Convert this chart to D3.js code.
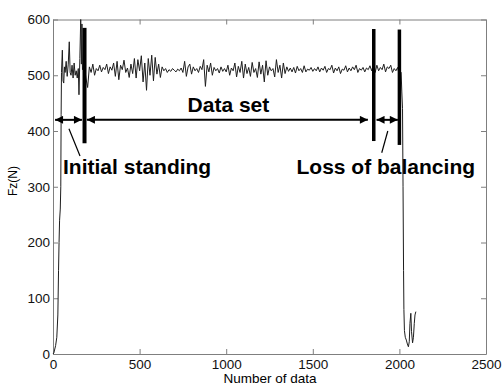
<!DOCTYPE html>
<html>
<head>
<meta charset="utf-8">
<script src="https://cdn.jsdelivr.net/npm/d3@7"></script>
<style>
    html, body { margin: 0; padding: 0; background: #fff; }
    svg { display: block; font-family: "Liberation Sans", Arial, sans-serif; }
</style>
</head>
<body>
<svg id="chart" width="502" height="385"></svg>
<script>
/* ========================= DATA ======================== */
/* ======================================================= */

// rise of the force while the subject steps on
const risePoints = [
    [0, 0], [5, 2], [15, 15], [22, 30], [28, 70], [32, 150], [35, 200], [38, 240],
    [42, 260], [45, 300], [47, 430], [49, 505], [54, 545], [58, 490], [62, 486],
    [66, 515], [70, 505], [76, 525], [82, 498], [88, 520], [94, 560], [99, 505],
    [104, 500], [110, 518], [116, 495], [122, 522], [128, 500], [134, 508],
    [140, 495], [146, 512], [150, 465], [155, 530], [160, 600], [164, 520],
    [167, 592]
];

// standing phase, one value every plateauStep samples from plateauStart
const plateauStart = 170;
const plateauStep = 10;
const plateauValues = [
    510, 520, 495, 478, 515, 505, 520, 500, 512, 508,
    518, 506, 514, 510, 520, 503, 515, 509, 522, 498,
    525, 492, 518, 510, 527, 505, 513, 496, 520, 503,
    530, 495, 528, 508, 535, 488, 522, 473, 530, 500,
    536, 490, 532, 502, 520, 496, 515, 508, 512, 505,
    510, 507, 512, 509, 506, 511, 508, 513, 505, 525,
    498, 515, 520, 502, 515, 508, 512, 505, 516, 510,
    528, 480, 518, 506, 522, 500, 514, 508, 512, 504,
    515, 507, 512, 506, 518, 500, 513, 508, 522, 497,
    516, 505, 525, 495, 520, 503, 514, 498, 523, 505,
    512, 496, 524, 502, 518, 488, 526, 500, 515, 508,
    512, 497, 528, 505, 518, 495, 522, 503, 515, 507,
    513, 506, 514, 504, 516, 508, 512, 505, 517, 506,
    511, 509, 514, 507, 512, 508, 515, 506, 513, 509,
    516, 505, 512, 510, 518, 504, 513, 508, 515, 503,
    511, 509, 517, 506, 513, 508, 515, 510, 518, 505,
    512, 509, 514, 506, 513, 510, 517, 508, 520, 505,
    518, 508, 514, 510, 520, 506, 515, 512, 518, 505,
    512, 508, 514, 500, 505
];

// fall after the loss of balance
const dropPoints = [
    [2014, 470], [2018, 440], [2021, 300], [2024, 150], [2026, 80], [2029, 42],
    [2034, 30], [2040, 25], [2046, 18], [2052, 13], [2057, 22], [2061, 55],
    [2066, 73], [2070, 40], [2076, 20], [2081, 30], [2086, 55], [2090, 70],
    [2095, 76]
];

const xTicks = [0, 500, 1000, 1500, 2000, 2500];
const yTicks = [0, 100, 200, 300, 400, 500, 600];

// phase borders: sample index, lower and upper end in N
const borderX = [182, 1852, 2000];
const borderLow = [378, 382, 375];
const borderHigh = [585, 583, 582];

// double arrows at Fz = 420 N
const arrowLevel = 420;
const arrowFrom = [12, 196, 1868];
const arrowTo = [167, 1818, 1991];

const labelTexts = ["Initial standing", "Data set", "Loss of balancing"];
const labelX = [58, 777, 1406];
const labelY = [323, 434, 323];

// short pointer lines from labels to arrows
const pointerLines = [
    [[92, 404], [156, 355]],
    [[1933, 400], [1898, 361]]
];

/* ======================================================= */
/* ======================= END DATA ====================== */


/* ======================== SETUP ======================== */
/* ======================================================= */

const svg = d3.select("#chart");
const plot = { left: 53, right: 486, top: 19.5, bottom: 354 };

const xScale = d3.scaleLinear()
                 .domain([0, 2500])
                 .range([plot.left, plot.right]);
const yScale = d3.scaleLinear()
                 .domain([0, 600])
                 .range([plot.bottom, plot.top]);

const series = risePoints
    .concat(plateauValues.map((v, i) => [plateauStart + i * plateauStep, v]))
    .concat(dropPoints);

svg.append("defs").append("marker")
   .attr("id", "head")
   .attr("viewBox", "0 0 10 10")
   .attr("refX", 10)
   .attr("refY", 5)
   .attr("markerUnits", "userSpaceOnUse")
   .attr("markerWidth", 9)
   .attr("markerHeight", 8)
   .attr("orient", "auto-start-reverse")
   .append("path")
   .attr("d", "M0,0 L10,5 L0,10 z")
   .attr("fill", "#000");

/* ======================================================= */
/* ======================== AXES ========================= */

function styleAxis(g) {
    g.attr("font-family", null);
    g.selectAll("path, line").attr("stroke", "#7f7f7f").attr("stroke-width", 1);
    g.selectAll("text").attr("fill", "#111").style("font-size", "13.5px");
}

svg.append("g")
   .attr("transform", `translate(0,${plot.bottom})`)
   .call(d3.axisBottom(xScale).tickValues(xTicks).tickFormat(d3.format("d"))
           .tickSizeInner(-5).tickSizeOuter(0).tickPadding(5))
   .call(styleAxis);

svg.append("g")
   .attr("transform", `translate(0,${plot.top})`)
   .call(d3.axisTop(xScale).tickValues(xTicks).tickSizeInner(-5).tickSizeOuter(0).tickFormat(""))
   .call(styleAxis);

svg.append("g")
   .attr("transform", `translate(${plot.left},0)`)
   .call(d3.axisLeft(yScale).tickValues(yTicks).tickFormat(d3.format("d"))
           .tickSizeInner(-5).tickSizeOuter(0).tickPadding(3))
   .call(styleAxis);

svg.append("g")
   .attr("transform", `translate(${plot.right},0)`)
   .call(d3.axisRight(yScale).tickValues(yTicks).tickSizeInner(-5).tickSizeOuter(0).tickFormat(""))
   .call(styleAxis);

svg.append("text")
   .attr("x", (plot.left + plot.right) / 2 + 0.5)
   .attr("y", 383)
   .attr("text-anchor", "middle")
   .style("font-size", "13.5px")
   .text("Number of data");

svg.append("text")
   .attr("transform", "translate(17,181) rotate(-90)")
   .attr("text-anchor", "middle")
   .style("font-size", "12px")
   .text("Fz(N)");

/* ======================================================= */
/* ======================== MARKS ======================== */

const line = d3.line()
               .x(d => xScale(d[0]))
               .y(d => yScale(d[1]));

svg.append("path")
   .datum(series)
   .attr("d", line)
   .attr("fill", "none")
   .attr("stroke", "#1e1e1e")
   .attr("stroke-width", 1)
   .attr("stroke-linejoin", "round");

svg.selectAll(".border")
   .data(borderX)
   .join("line")
   .attr("class", "border")
   .attr("x1", d => xScale(d))
   .attr("x2", d => xScale(d))
   .attr("y1", (d, i) => yScale(borderLow[i]))
   .attr("y2", (d, i) => yScale(borderHigh[i]))
   .attr("stroke", "#000")
   .attr("stroke-width", (d, i) => i === 0 ? 4 : 3.5);

svg.selectAll(".arrow")
   .data(arrowFrom)
   .join("line")
   .attr("class", "arrow")
   .attr("x1", d => xScale(d))
   .attr("x2", (d, i) => xScale(arrowTo[i]))
   .attr("y1", yScale(arrowLevel))
   .attr("y2", yScale(arrowLevel))
   .attr("stroke", "#000")
   .attr("stroke-width", 2)
   .attr("marker-start", "url(#head)")
   .attr("marker-end", "url(#head)");

svg.selectAll(".pointer")
   .data(pointerLines)
   .join("line")
   .attr("class", "pointer")
   .attr("x1", d => xScale(d[0][0]))
   .attr("y1", d => yScale(d[0][1]))
   .attr("x2", d => xScale(d[1][0]))
   .attr("y2", d => yScale(d[1][1]))
   .attr("stroke", "#000")
   .attr("stroke-width", 1.2);

svg.selectAll(".label")
   .data(labelTexts)
   .join("text")
   .attr("class", "label")
   .attr("x", (d, i) => xScale(labelX[i]))
   .attr("y", (d, i) => yScale(labelY[i]))
   .style("font-size", "21px")
   .style("font-weight", "bold")
   .text(d => d);

/* ======================================================= */
/* ====================== END MARKS ====================== */
</script>
</body>
</html>
